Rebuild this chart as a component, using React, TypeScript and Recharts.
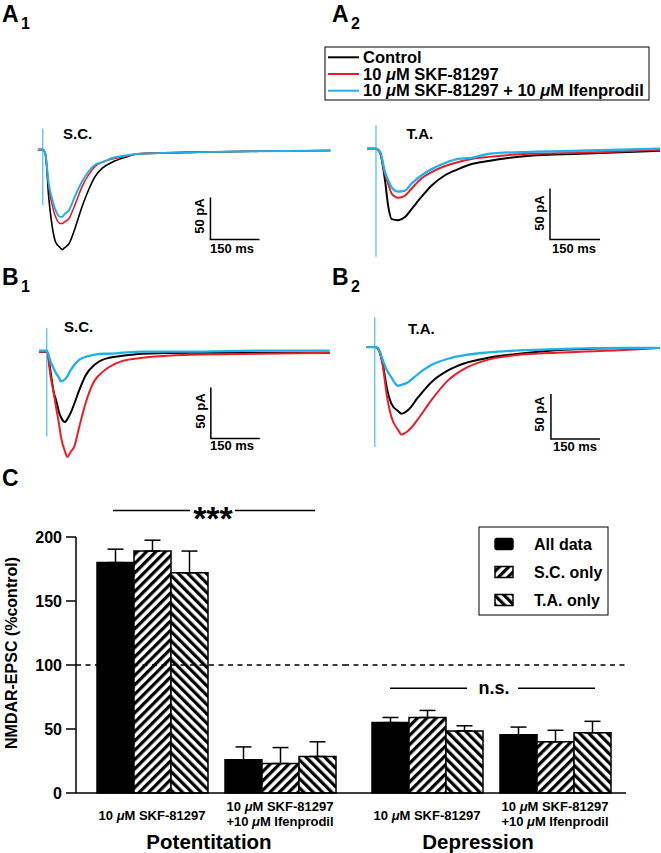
import { Bar, BarChart, ErrorBar, Line, LineChart, ReferenceLine, XAxis, YAxis } from "recharts";

const FONT = "'Liberation Sans', Arial, Helvetica, sans-serif";
const RED = "#ed1c24";
const BLUE = "#1fb1ec";

// ---- traces (time in ms after stimulus, current in pA) ----
const a1Time = [-15, 0, 8, 18, 29, 39, 54, 59, 66, 80, 100, 120, 140, 160, 182, 212, 253, 294, 480, 660, 880];
const a1Control = [0, 0, -6, -56, -92, -110, -117, -119, -117, -112, -92, -68, -48, -32, -22, -15, -9, -5, -3, -2, -1];
const a1Skf = [0, 0, -5, -44, -66, -80, -88, -88, -86, -82, -64, -44, -30, -20, -15, -11, -8, -5, -3, -2, -1];
const a1Ifen = [0, 0, -5, -40, -59, -72, -80, -80, -77, -72, -54, -38, -26, -18, -15, -10, -7, -5, -3, -2, -1];
const a1Artifact = [25, -66];

const a2Time = [-27, 0, 12, 27, 37, 47, 67, 87, 107, 137, 167, 207, 247, 287, 337, 462, 612, 852];
const a2Control = [0, 0, -4, -31, -57, -69, -70, -67, -59, -47, -36, -26, -20, -15, -12, -7, -5, -2];
const a2Skf = [0, 0, -3, -25, -35, -44, -48, -46, -39, -29, -23, -17, -13, -10, -8, -5, -4, -1];
const a2Ifen = [0, 0, -3, -23, -31, -38, -42, -41, -34, -26, -20, -14, -10, -9, -5, -3, -2, 0];
const a2Artifact = [23, -106];

const b1Time = [-24, 0, 12, 22, 28, 38, 43, 56, 63, 73, 84, 99, 119, 145, 170, 191, 232, 293, 438, 652, 866];
const b1Control = [0, 0, -21, -41, -47, -60, -64, -69, -66, -60, -51, -38, -23, -13, -8, -6, -4, -2, -1, -1, -1];
const b1Skf = [0, 0, -25, -42, -54, -72, -83, -98, -103, -98, -93, -74, -50, -29, -20, -15, -9, -6, -3, -2, -1];
const b1Ifen = [1, 1, -10, -17, -21, -26, -29, -27, -24, -18, -13, -8, -5, -3, -2, -2, -1, 0, 0, 1, 1];
const b1Artifact = [23, -83];

const b2Time = [-25, 0, 10, 25, 36, 51, 71, 82, 102, 132, 173, 224, 275, 347, 428, 576, 780, 872];
const b2Control = [0, 0, -2, -20, -44, -63, -71, -74, -70, -56, -39, -26, -18, -12, -8, -3, -1, -1];
const b2Skf = [0, 0, -2, -22, -52, -78, -92, -97, -93, -80, -59, -37, -24, -14, -9, -6, -3, -1];
const b2Ifen = [0, 0, -1, -15, -25, -34, -43, -42, -39, -30, -20, -13, -9, -6, -4, -2, -1, -1];
const b2Artifact = [33, -111];

// scale bars: 50 pA / 150 ms
const a1ScaleT = [513, 513, 663];
const a1ScaleV = [-57, -107, -107];
const a2ScaleT = [522, 522, 672];
const a2ScaleV = [-39, -89, -89];
const b1ScaleT = [502, 502, 652];
const b1ScaleV = [-35, -85, -85];
const b2ScaleT = [539, 539, 689];
const b2ScaleV = [-52, -102, -102];

// ---- panel C: NMDAR-EPSC (% control) ----
const categories = ["10 μM SKF-81297", "10 μM SKF-81297\n+10 μM Ifenprodil"];
const potAll = [180, 26];
const potAllErr = [10.5, 10];
const potSC = [189, 23];
const potSCErr = [8.5, 12.5];
const potTA = [172, 28.5];
const potTAErr = [17, 11.5];
const depAll = [55, 45.5];
const depAllErr = [4, 6];
const depSC = [59, 40];
const depSCErr = [5.5, 9];
const depTA = [48.5, 47];
const depTAErr = [4, 9];
const yTicks = [0, 50, 100, 150, 200];

type Panel = {
  stimX: number;
  baseY: number;
  msPerPx: number;
  paPerPx: number;
  tMin: number;
  tMax: number;
  vMin: number;
  vMax: number;
  lineWidth: number;
};

const panelA1: Panel = { stimX: 43.3, baseY: 149.5, msPerPx: 3.06, paPerPx: 1.19, tMin: -30, tMax: 900, vMin: -150, vMax: 40, lineWidth: 1.6 };
const panelA2: Panel = { stimX: 376, baseY: 148.3, msPerPx: 3.0, paPerPx: 0.98, tMin: -30, tMax: 855, vMin: -120, vMax: 35, lineWidth: 2 };
const panelB1: Panel = { stimX: 47, baseY: 351.7, msPerPx: 3.06, paPerPx: 0.98, tMin: -30, tMax: 880, vMin: -120, vMax: 35, lineWidth: 2 };
const panelB2: Panel = { stimX: 375, baseY: 346.7, msPerPx: 3.06, paPerPx: 1.11, tMin: -30, tMax: 872, vMin: -125, vMax: 40, lineWidth: 2 };

function TracePanel({
  panel,
  time,
  control,
  skf,
  ifen,
  artifact,
  scaleT,
  scaleV
}: {
  panel: Panel;
  time: number[];
  control: number[];
  skf: number[];
  ifen: number[];
  artifact: number[];
  scaleT: number[];
  scaleV: number[];
}) {
  const rows = time.map((t, i) => ({ t, control: control[i], skf: skf[i], ifen: ifen[i] }));
  const artRows = artifact.map((v) => ({ t: 0, v }));
  const barRows = scaleT.map((t, i) => ({ t, v: scaleV[i] }));
  const left = panel.stimX + panel.tMin / panel.msPerPx;
  const top = panel.baseY - panel.vMax / panel.paPerPx;
  const width = (panel.tMax - panel.tMin) / panel.msPerPx;
  const height = (panel.vMax - panel.vMin) / panel.paPerPx;
  return (
    <div style={{ position: "absolute", left, top }}>
      <LineChart width={width} height={height} data={rows} margin={{ top: 0, right: 0, bottom: 0, left: 0 }}>
        <XAxis type="number" dataKey="t" domain={[panel.tMin, panel.tMax]} hide allowDataOverflow />
        <YAxis type="number" domain={[panel.vMin, panel.vMax]} hide allowDataOverflow />
        <Line data={barRows} dataKey="v" type="linear" stroke="#000" strokeWidth={1.5} dot={false} activeDot={false} isAnimationActive={false} />
        <Line dataKey="control" type="monotone" stroke="#000" strokeWidth={panel.lineWidth} dot={false} activeDot={false} isAnimationActive={false} />
        <Line dataKey="skf" type="monotone" stroke={RED} strokeWidth={panel.lineWidth} dot={false} activeDot={false} isAnimationActive={false} />
        <Line dataKey="ifen" type="monotone" stroke={BLUE} strokeWidth={panel.lineWidth + 0.3} dot={false} activeDot={false} isAnimationActive={false} />
        <Line data={artRows} dataKey="v" type="linear" stroke={BLUE} strokeWidth={1} dot={false} activeDot={false} isAnimationActive={false} />
      </LineChart>
    </div>
  );
}

// italic mu inside bold labels
function withMu(line: string) {
  const parts = line.split("μ");
  return parts.map((p, i) => (
    <tspan key={i}>
      {i > 0 && <tspan fontStyle="italic">μ</tspan>}
      {p}
    </tspan>
  ));
}

function CategoryTick({ x, y, payload }: any) {
  const lines = String(payload.value).split("\n");
  const firstDy = lines.length === 1 ? 27 : 18;
  return (
    <text x={x} y={y} textAnchor="middle" fontFamily={FONT} fontWeight="bold" fontSize={13} fill="#000">
      {lines.map((line, i) => (
        <tspan key={i} x={x} dy={i === 0 ? firstDy : 14.5}>
          {withMu(line)}
        </tspan>
      ))}
    </text>
  );
}

function EffectChart({
  all,
  allErr,
  sc,
  scErr,
  ta,
  taErr,
  left,
  width,
  marginRight,
  padLeft,
  padRight,
  showYAxis
}: {
  all: number[];
  allErr: number[];
  sc: number[];
  scErr: number[];
  ta: number[];
  taErr: number[];
  left: number;
  width: number;
  marginRight: number;
  padLeft: number;
  padRight: number;
  showYAxis: boolean;
}) {
  const rows = categories.map((name, i) => ({
    name,
    all: all[i],
    allErr: [0, allErr[i]],
    sc: sc[i],
    scErr: [0, scErr[i]],
    ta: ta[i],
    taErr: [0, taErr[i]]
  }));
  return (
    <div style={{ position: "absolute", left, top: 500 }}>
      <BarChart
        width={width}
        height={353}
        data={rows}
        margin={{ top: 37, right: marginRight, bottom: 0, left: 0 }}
        barGap={0}
        barSize={37}
      >
        <XAxis
          dataKey="name"
          height={60}
          padding={{ left: padLeft, right: padRight }}
          axisLine={{ stroke: "#000", strokeWidth: 1.5 }}
          tickLine={false}
          tickSize={0}
          tickMargin={0}
          interval={0}
          tick={(props: any) => <CategoryTick {...props} />}
        />
        <YAxis
          domain={[0, 200]}
          ticks={yTicks}
          hide={!showYAxis}
          width={76}
          axisLine={{ stroke: "#000", strokeWidth: 1.5 }}
          tickLine={{ stroke: "#000", strokeWidth: 1.5 }}
          tickSize={10}
          tickMargin={4}
          tick={{ fill: "#000", fontFamily: FONT, fontWeight: "bold", fontSize: 16 }}
        />
        <Bar dataKey="all" fill="#000" stroke="#000" strokeWidth={1.5} isAnimationActive={false}>
          <ErrorBar dataKey="allErr" width={8} stroke="#000" strokeWidth={1.5} direction="y" />
        </Bar>
        <Bar dataKey="sc" fill="url(#hatchSC)" stroke="#000" strokeWidth={1.5} isAnimationActive={false}>
          <ErrorBar dataKey="scErr" width={8} stroke="#000" strokeWidth={1.5} direction="y" />
        </Bar>
        <Bar dataKey="ta" fill="url(#hatchTA)" stroke="#000" strokeWidth={1.5} isAnimationActive={false}>
          <ErrorBar dataKey="taErr" width={8} stroke="#000" strokeWidth={1.5} direction="y" />
        </Bar>
        <ReferenceLine y={100} stroke="#000" strokeWidth={1.5} strokeDasharray="5 4.5" />
      </BarChart>
    </div>
  );
}

function PanelLabel({ x, y, letter, sub }: { x: number; y: number; letter: string; sub: string }) {
  return (
    <g fontFamily={FONT} fontWeight="bold" fill="#000">
      <text x={x} y={y} fontSize={23}>
        {letter}
      </text>
      <text x={x + 19} y={y + 7} fontSize={16}>
        {sub}
      </text>
    </g>
  );
}

function ScaleLabels({ px, py, mx, my }: { px: number; py: number; mx: number; my: number }) {
  return (
    <g fontFamily={FONT} fontWeight="bold" fontSize={13} fill="#000">
      <text x={px} y={py} textAnchor="middle" dominantBaseline="central" transform={`rotate(-90 ${px} ${py})`}>
        50 pA
      </text>
      <text x={mx} y={my}>
        150 ms
      </text>
    </g>
  );
}

function Overlay() {
  const legendRows = [
    { color: "#000", label: "Control" },
    { color: RED, label: "10 μM SKF-81297" },
    { color: BLUE, label: "10 μM SKF-81297 + 10 μM Ifenprodil" }
  ];
  const barLegend = [
    { fill: "#000", label: "All data" },
    { fill: "url(#hatchSC)", label: "S.C. only" },
    { fill: "url(#hatchTA)", label: "T.A. only" }
  ];
  return (
    <svg width={661} height={853} style={{ position: "absolute", left: 0, top: 0, pointerEvents: "none" }}>
      <PanelLabel x={2} y={22} letter="A" sub="1" />
      <PanelLabel x={332} y={22} letter="A" sub="2" />
      <PanelLabel x={2} y={285} letter="B" sub="1" />
      <PanelLabel x={332} y={285} letter="B" sub="2" />
      <text x={2} y={486} fontFamily={FONT} fontWeight="bold" fontSize={23}>
        C
      </text>

      <g fontFamily={FONT} fontWeight="bold" fontSize={15} fill="#000">
        <text x={63} y={138.5}>S.C.</text>
        <text x={406.5} y={138.5}>T.A.</text>
        <text x={64} y={332}>S.C.</text>
        <text x={408} y={334}>T.A.</text>
      </g>

      <ScaleLabels px={199} py={216} mx={210} my={253} />
      <ScaleLabels px={539} py={213} mx={552} my={253} />
      <ScaleLabels px={200} py={411} mx={210} my={450} />
      <ScaleLabels px={539.5} py={414} mx={553} my={450.5} />

      {/* trace legend */}
      <rect x={325} y={47} width={324} height={53} fill="#fff" stroke="#000" strokeWidth={1} />
      {legendRows.map((r, i) => (
        <g key={r.label}>
          <line x1={328} x2={359} y1={57.3 + i * 16.7} y2={57.3 + i * 16.7} stroke={r.color} strokeWidth={2} />
          <text x={363} y={62.8 + i * 16.7} fontFamily={FONT} fontWeight="bold" fontSize={16.5} fill="#000">
            {withMu(r.label)}
          </text>
        </g>
      ))}

      {/* bar legend */}
      <rect x={479} y={527} width={129} height={88} fill="#fff" stroke="#000" strokeWidth={1} />
      {barLegend.map((r, i) => (
        <g key={r.label}>
          <rect x={495} y={538.5 + i * 28} width={18} height={11} rx={i === 0 ? 2 : 0} fill={r.fill} stroke="#000" strokeWidth={1.5} />
          <text x={534} y={549.8 + i * 28} fontFamily={FONT} fontWeight="bold" fontSize={16} fill="#000">
            {r.label}
          </text>
        </g>
      ))}

      {/* significance */}
      <line x1={113} x2={190} y1={510.5} y2={510.5} stroke="#000" strokeWidth={1.5} />
      <line x1={235} x2={315} y1={510.5} y2={510.5} stroke="#000" strokeWidth={1.5} />
      <text x={213} y={530} textAnchor="middle" fontFamily={FONT} fontWeight="bold" fontSize={34}>
        ***
      </text>
      <line x1={390} x2={467} y1={688.3} y2={688.3} stroke="#000" strokeWidth={1.5} />
      <line x1={518} x2={595} y1={688.3} y2={688.3} stroke="#000" strokeWidth={1.5} />
      <text x={494} y={693.5} textAnchor="middle" fontFamily={FONT} fontWeight="bold" fontSize={18}>
        n.s.
      </text>

      {/* axis titles */}
      <text
        x={11}
        y={653}
        textAnchor="middle"
        dominantBaseline="central"
        transform="rotate(-90 11 653)"
        fontFamily={FONT}
        fontWeight="bold"
        fontSize={16}
      >
        NMDAR-EPSC (%control)
      </text>
      <text x={209} y={848.5} textAnchor="middle" fontFamily={FONT} fontWeight="bold" fontSize={20.5}>
        Potentitation
      </text>
      <text x={478} y={848.5} textAnchor="middle" fontFamily={FONT} fontWeight="bold" fontSize={20.5}>
        Depression
      </text>
    </svg>
  );
}

export default function App() {
  return (
    <div
      style={{
        position: "absolute",
        left: 0,
        top: 0,
        width: 661,
        height: 853,
        overflow: "hidden",
        background: "#fff",
        fontFamily: FONT
      }}
    >
      <svg width={0} height={0} style={{ position: "absolute" }}>
        <defs>
          <pattern id="hatchSC" patternUnits="userSpaceOnUse" width={6.6} height={6.6} patternTransform="rotate(45)">
            <rect width={6.6} height={6.6} fill="#fff" />
            <rect width={3.2} height={6.6} fill="#000" />
          </pattern>
          <pattern id="hatchTA" patternUnits="userSpaceOnUse" width={6.6} height={6.6} patternTransform="rotate(-45)">
            <rect width={6.6} height={6.6} fill="#fff" />
            <rect width={3.2} height={6.6} fill="#000" />
          </pattern>
        </defs>
      </svg>

      <TracePanel panel={panelA1} time={a1Time} control={a1Control} skf={a1Skf} ifen={a1Ifen} artifact={a1Artifact} scaleT={a1ScaleT} scaleV={a1ScaleV} />
      <TracePanel panel={panelA2} time={a2Time} control={a2Control} skf={a2Skf} ifen={a2Ifen} artifact={a2Artifact} scaleT={a2ScaleT} scaleV={a2ScaleV} />
      <TracePanel panel={panelB1} time={b1Time} control={b1Control} skf={b1Skf} ifen={b1Ifen} artifact={b1Artifact} scaleT={b1ScaleT} scaleV={b1ScaleV} />
      <TracePanel panel={panelB2} time={b2Time} control={b2Control} skf={b2Skf} ifen={b2Ifen} artifact={b2Artifact} scaleT={b2ScaleT} scaleV={b2ScaleV} />

      <EffectChart
        all={potAll}
        allErr={potAllErr}
        sc={potSC}
        scErr={potSCErr}
        ta={potTA}
        taErr={potTAErr}
        left={0}
        width={344}
        marginRight={0}
        padLeft={12}
        padRight={0}
        showYAxis
      />
      <EffectChart
        all={depAll}
        allErr={depAllErr}
        sc={depSC}
        scErr={depSCErr}
        ta={depTA}
        taErr={depTAErr}
        left={344}
        width={317}
        marginRight={35}
        padLeft={19}
        padRight={7}
        showYAxis={false}
      />

      <Overlay />
    </div>
  );
}
